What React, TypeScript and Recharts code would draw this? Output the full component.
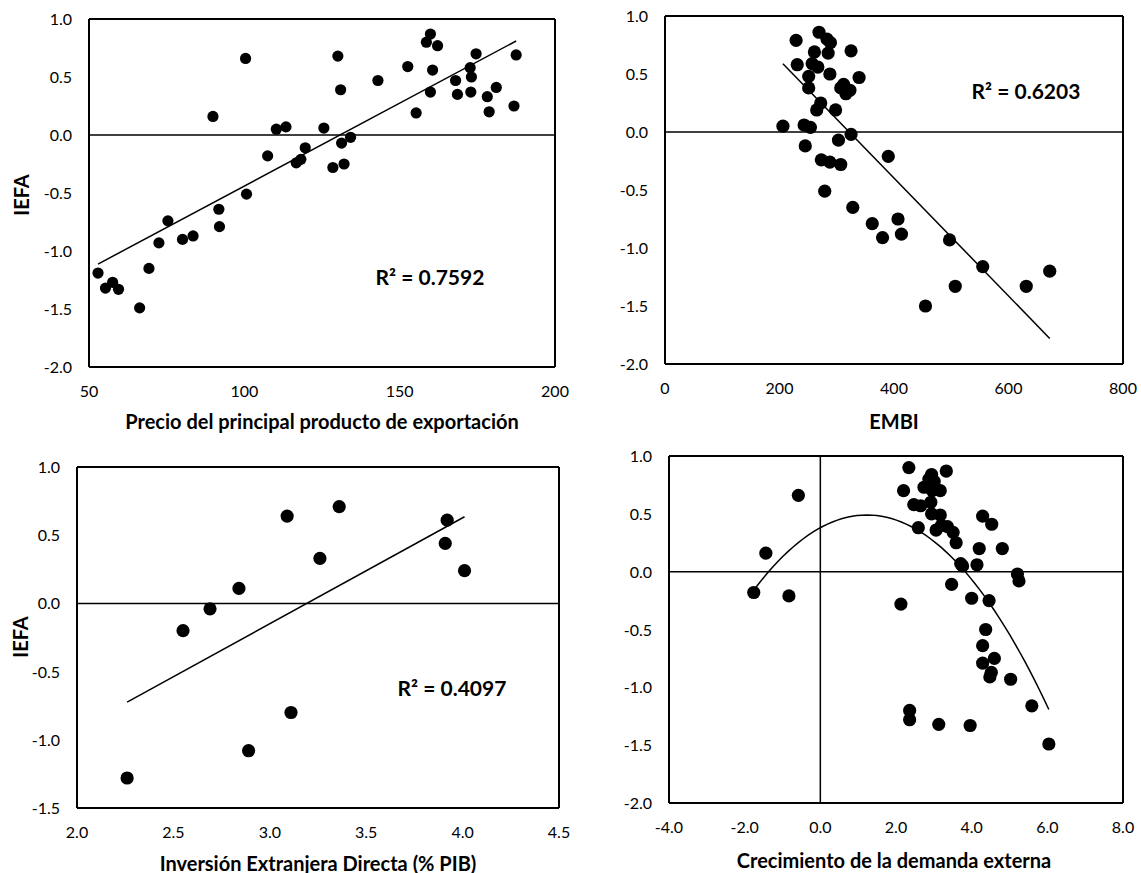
import React from "react"
import { ScatterChart, Scatter, XAxis, YAxis, ReferenceLine } from "recharts"

// Panel 1: precio del principal producto de exportación vs IEFA
const precioX = [
  52.9, 55.3, 57.6, 59.5, 66.3, 69.3, 72.5, 75.4, 80.1, 83.5, 89.9, 91.8, 92.0,
  100.4, 100.7, 107.5, 110.3, 113.4, 116.7, 118.2, 119.6, 125.6, 128.5, 130.1,
  131.0, 131.3, 132.1, 134.2, 143.0, 152.6, 155.3, 158.6, 159.9, 159.9, 160.6,
  162.2, 168.0, 168.6, 172.7, 173.1, 172.9, 174.6, 178.2, 178.8, 181.1, 186.8,
  187.5,
]
const precioY = [
  -1.19, -1.32, -1.27, -1.33, -1.49, -1.15, -0.93, -0.74, -0.9, -0.87, 0.16,
  -0.64, -0.79, 0.66, -0.51, -0.18, 0.05, 0.07, -0.24, -0.21, -0.11, 0.06,
  -0.28, 0.68, 0.39, -0.07, -0.25, -0.02, 0.47, 0.59, 0.19, 0.8, 0.87, 0.37,
  0.56, 0.77, 0.47, 0.35, 0.58, 0.5, 0.37, 0.7, 0.33, 0.2, 0.41, 0.25, 0.69,
]

// Panel 2: EMBI vs IEFA
const embiX = [
  206, 229, 231, 243, 245, 251, 251, 254, 257, 261, 265, 267, 269, 272, 273,
  279, 283, 285, 288, 289, 288, 298, 303, 307, 307, 312, 316, 323, 325, 325,
  328, 339, 362, 380, 390, 407, 413, 455, 497, 507, 555, 631, 672,
]
const embiY = [
  0.05, 0.79, 0.58, 0.06, -0.12, 0.48, 0.38, 0.04, 0.59, 0.69, 0.19, 0.56,
  0.86, 0.25, -0.24, -0.51, 0.8, 0.68, 0.5, 0.77, -0.26, 0.19, -0.07, -0.28,
  0.38, 0.41, 0.33, 0.36, -0.02, 0.7, -0.65, 0.47, -0.79, -0.91, -0.21, -0.75,
  -0.88, -1.5, -0.93, -1.33, -1.16, -1.33, -1.2,
]

// Panel 3: IED (% PIB) vs IEFA
const iedX = [2.26, 2.55, 2.69, 2.84, 2.89, 3.09, 3.11, 3.26, 3.36, 3.91, 3.92, 4.01]
const iedY = [-1.28, -0.2, -0.04, 0.11, -1.08, 0.64, -0.8, 0.33, 0.71, 0.44, 0.61, 0.24]

// Panel 4: crecimiento de la demanda externa vs IEFA
const demandaX = [
  -1.76, -1.44, -0.83, -0.58, 2.13, 2.2, 2.34, 2.36, 2.36, 2.47, 2.59, 2.65,
  2.74, 2.87, 2.92, 2.94, 2.96, 2.92, 2.94, 3.01, 3.06, 3.13, 3.17, 3.17, 3.2,
  3.33, 3.36, 3.47, 3.51, 3.59, 3.71, 3.76, 3.96, 4.0, 4.14, 4.2, 4.29, 4.29,
  4.29, 4.37, 4.46, 4.48, 4.52, 4.53, 4.6, 4.81, 5.03, 5.21, 5.25, 5.59, 6.04,
]
const demandaY = [
  -0.18, 0.16, -0.21, 0.66, -0.28, 0.7, 0.9, -1.2, -1.28, 0.58, 0.38, 0.57,
  0.73, 0.8, 0.74, 0.84, 0.7, 0.6, 0.5, 0.78, 0.36, -1.32, 0.7, 0.49, 0.4,
  0.87, 0.39, -0.11, 0.34, 0.25, 0.07, 0.05, -1.33, -0.23, 0.06, 0.2, 0.48,
  -0.64, -0.79, -0.5, -0.25, -0.91, -0.87, 0.41, -0.75, 0.2, -0.93, -0.02,
  -0.08, -1.16, -1.49,
]

const r2Labels = ["R² = 0.7592", "R² = 0.6203", "R² = 0.4097"]

const FONT = 'Lato, "Open Sans", sans-serif'
const TICK_SIZE = 16

type Pt = { x: number; y: number }

const zip = (xs: number[], ys: number[]): Pt[] => xs.map((x, i) => ({ x, y: ys[i] }))

function linearTrend(xs: number[], ys: number[]): Pt[] {
  const n = xs.length
  const mx = xs.reduce((a, b) => a + b, 0) / n
  const my = ys.reduce((a, b) => a + b, 0) / n
  let sxy = 0
  let sxx = 0
  xs.forEach((x, i) => {
    sxy += (x - mx) * (ys[i] - my)
    sxx += (x - mx) * (x - mx)
  })
  const b = sxy / sxx
  const a = my - b * mx
  const lo = Math.min(...xs)
  const hi = Math.max(...xs)
  return [lo, hi].map((x) => ({ x, y: a + b * x }))
}

// least squares y = c0 + c1 x + c2 x^2
function quadTrend(xs: number[], ys: number[]): Pt[] {
  const s = [0, 0, 0, 0, 0]
  const t = [0, 0, 0]
  xs.forEach((x, i) => {
    for (let k = 0; k < 5; k++) s[k] += Math.pow(x, k)
    for (let k = 0; k < 3; k++) t[k] += Math.pow(x, k) * ys[i]
  })
  const m = [
    [s[0], s[1], s[2], t[0]],
    [s[1], s[2], s[3], t[1]],
    [s[2], s[3], s[4], t[2]],
  ]
  for (let i = 0; i < 3; i++) {
    for (let j = i + 1; j < 3; j++) {
      const f = m[j][i] / m[i][i]
      for (let k = i; k < 4; k++) m[j][k] -= f * m[i][k]
    }
  }
  const c = [0, 0, 0]
  for (let i = 2; i >= 0; i--) {
    let v = m[i][3]
    for (let k = i + 1; k < 3; k++) v -= m[i][k] * c[k]
    c[i] = v / m[i][i]
  }
  const lo = Math.min(...xs)
  const hi = Math.max(...xs)
  const pts: Pt[] = []
  for (let i = 0; i <= 60; i++) {
    const x = lo + ((hi - lo) * i) / 60
    pts.push({ x, y: c[0] + c[1] * x + c[2] * x * x })
  }
  return pts
}

const makeDot = (r: number) => (props: any) => (
  <circle cx={props.cx} cy={props.cy} r={r} fill="#000" />
)
const NoDot = () => <g />

const makeXTick = (decimals: number) => (props: any) => (
  <text
    x={props.x}
    y={props.y + 28}
    textAnchor="middle"
    fontFamily={FONT}
    fontSize={TICK_SIZE}
    fill="#000"
  >
    {Number(props.payload.value).toFixed(decimals)}
  </text>
)

const YTick = (props: any) => (
  <text
    x={props.x - 15}
    y={props.y + 6}
    textAnchor="end"
    fontFamily={FONT}
    fontSize={TICK_SIZE}
    fill="#000"
  >
    {Number(props.payload.value).toFixed(1)}
  </text>
)

interface PanelProps {
  plotLeft: number
  plotTop: number
  plotW: number
  plotH: number
  data: Pt[]
  trend: Pt[]
  dotR: number
  xDomain: [number, number]
  xTicks: number[]
  xDecimals: number
  yDomain: [number, number]
  yTicks: number[]
  vLine?: boolean
}

function Panel(p: PanelProps) {
  const axisW = 70
  const padT = 10
  const padR = 30
  const axisH = 40
  const edge = { stroke: "#000", strokeWidth: 2 }
  return (
    <div style={{ position: "absolute", left: p.plotLeft - axisW, top: p.plotTop - padT }}>
      <ScatterChart
        width={p.plotW + axisW + padR}
        height={p.plotH + padT + axisH}
        margin={{ top: padT, right: padR, bottom: 0, left: 0 }}
      >
        <XAxis
          type="number"
          dataKey="x"
          domain={p.xDomain}
          ticks={p.xTicks}
          allowDataOverflow
          height={axisH}
          axisLine={false}
          tickLine={false}
          tickSize={0}
          tick={makeXTick(p.xDecimals)}
        />
        <YAxis
          type="number"
          dataKey="y"
          domain={p.yDomain}
          ticks={p.yTicks}
          allowDataOverflow
          width={axisW}
          axisLine={false}
          tickLine={false}
          tickSize={0}
          tick={YTick}
        />
        <ReferenceLine y={0} stroke="#000" strokeWidth={1.5} />
        {p.vLine && <ReferenceLine x={0} stroke="#000" strokeWidth={1.5} />}
        <Scatter data={p.data} shape={makeDot(p.dotR)} isAnimationActive={false} />
        <Scatter
          data={p.trend}
          shape={NoDot}
          line={{ stroke: "#000", strokeWidth: 1.5 }}
          isAnimationActive={false}
        />
        {/* plot-area frame */}
        <ReferenceLine x={p.xDomain[0]} {...edge} />
        <ReferenceLine x={p.xDomain[1]} {...edge} />
        <ReferenceLine y={p.yDomain[0]} {...edge} />
        <ReferenceLine y={p.yDomain[1]} {...edge} />
      </ScatterChart>
    </div>
  )
}

function Txt({ x, y, size, text, rotate }: { x: number; y: number; size: number; text: string; rotate?: boolean }) {
  return (
    <div
      style={{
        position: "absolute",
        left: x,
        top: y,
        transform: `translate(-50%, -50%)${rotate ? " rotate(-90deg)" : ""}`,
        fontFamily: FONT,
        fontWeight: 700,
        fontSize: size,
        whiteSpace: "nowrap",
        color: "#000",
        lineHeight: 1,
      }}
    >
      {text}
    </div>
  )
}

const yTicks3 = [-2, -1.5, -1, -0.5, 0, 0.5, 1]

export default function App() {
  return (
    <div style={{ position: "absolute", left: 0, top: 0, width: 1141, height: 873, background: "#fff" }}>
      <Panel
        plotLeft={89}
        plotTop={19}
        plotW={466}
        plotH={348}
        data={zip(precioX, precioY)}
        trend={linearTrend(precioX, precioY)}
        dotR={5.6}
        xDomain={[50, 200]}
        xTicks={[50, 100, 150, 200]}
        xDecimals={0}
        yDomain={[-2, 1]}
        yTicks={yTicks3}
      />
      <Panel
        plotLeft={665}
        plotTop={16}
        plotW={458}
        plotH={348}
        data={zip(embiX, embiY)}
        trend={linearTrend(embiX, embiY)}
        dotR={6.6}
        xDomain={[0, 800]}
        xTicks={[0, 200, 400, 600, 800]}
        xDecimals={0}
        yDomain={[-2, 1]}
        yTicks={yTicks3}
      />
      <Panel
        plotLeft={77}
        plotTop={467}
        plotW={482}
        plotH={341}
        data={zip(iedX, iedY)}
        trend={linearTrend(iedX, iedY)}
        dotR={6.6}
        xDomain={[2, 4.5]}
        xTicks={[2, 2.5, 3, 3.5, 4, 4.5]}
        xDecimals={1}
        yDomain={[-1.5, 1]}
        yTicks={[-1.5, -1, -0.5, 0, 0.5, 1]}
      />
      <Panel
        plotLeft={669}
        plotTop={456}
        plotW={454}
        plotH={347}
        data={zip(demandaX, demandaY)}
        trend={quadTrend(demandaX, demandaY)}
        dotR={6.6}
        xDomain={[-4, 8]}
        xTicks={[-4, -2, 0, 2, 4, 6, 8]}
        xDecimals={1}
        yDomain={[-2, 1]}
        yTicks={yTicks3}
        vLine
      />

      <Txt x={322} y={421} size={20} text="Precio del principal producto de exportación" />
      <Txt x={21} y={195} size={20} text="IEFA" rotate />
      <Txt x={894} y={421} size={20} text="EMBI" />
      <Txt x={318} y={863} size={20} text="Inversión Extranjera Directa (% PIB)" />
      <Txt x={20} y={637} size={20} text="IEFA" rotate />
      <Txt x={894} y={860} size={20} text="Crecimiento de la demanda externa" />

      <Txt x={430} y={276} size={21} text={r2Labels[0]} />
      <Txt x={1026} y={90} size={21} text={r2Labels[1]} />
      <Txt x={452} y={687} size={21} text={r2Labels[2]} />
    </div>
  )
}
